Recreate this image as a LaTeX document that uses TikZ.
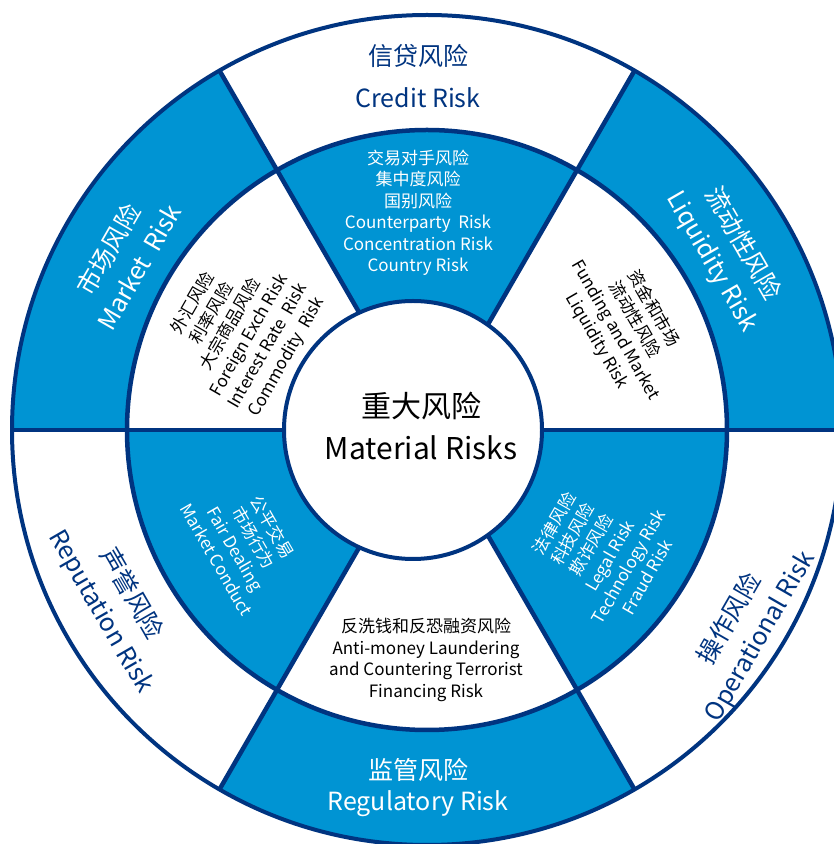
\documentclass[tikz,border=0pt]{standalone}
\usepackage{fontspec}
\setmainfont{Noto Sans CJK SC}
\definecolor{riskblue}{RGB}{0,148,211}
\definecolor{risknavy}{RGB}{0,52,128}

\begin{document}
\begin{tikzpicture}[x=1pt, y=1pt]
  \tikzstyle{outertext}=[
      align = center, inner sep = 0pt
    , font = \fontsize{25}{35}\selectfont
    ]
  \tikzstyle{midtext}=[
      align = center, inner sep = 0pt
    , font = \fontsize{17}{21.5}\selectfont
    ]
  \tikzstyle{ringline}=[draw = risknavy, line width = 4.5pt]

  \useasboundingbox (0,0) rectangle (834,844);
  \clip (0,0) rectangle (834,844);
  \coordinate (c) at (427,414);
  \coordinate (core) at (413,414);

  % start angle / outer ring / middle ring
  \foreach \a/\outc/\midc in {0/riskblue/white, 60/white/riskblue, 120/riskblue/white,
                              180/white/riskblue, 240/riskblue/white, 300/white/riskblue}{
    \fill[\outc] (c) -- ++(\a:415) arc[start angle = \a, delta angle = 60, radius = 415] -- cycle;
    \fill[\midc] (c) -- ++(\a:300) arc[start angle = \a, delta angle = 60, radius = 300] -- cycle;
  }
  \foreach \a in {0,60,...,300}
    \draw[ringline] (c) -- ++(\a:415);
  \draw[ringline, line width = 4pt] (c) circle[radius = 415];
  \draw[ringline] (c) circle[radius = 300];
  \draw[ringline, fill = white, line width = 4pt] (core) circle[radius = 129];

  \node[align = center, font = \fontsize{30}{42}\selectfont] (material) at (421,418)
    {重大风险\\Material Risks};

  \node[outertext, text = risknavy, font = \fontsize{25}{42}\selectfont] (credit) at (418,768)
    {信贷风险\\Credit Risk};
  \node[outertext, text = white, font = \fontsize{25}{31}\selectfont] (regulatory) at (418,56)
    {监管风险\\Regulatory Risk};
  \node[outertext, text = white, rotate = 60] (market) at (123,586)
    {市场风险\\Market\ \ Risk};
  \node[outertext, text = white, rotate = -60] (liquidity) at (727,591)
    {流动性风险\\Liquidity Risk};
  \node[outertext, text = risknavy, rotate = 60] (operational) at (745,216)
    {操作风险\\Operational Risk};
  \node[outertext, text = risknavy, rotate = -60] (reputation) at (116,241)
    {声誉风险\\Reputation Risk};

  \node[midtext, text = white] (counterparty) at (418,631)
    {交易对手风险\\集中度风险\\国别风险\\Counterparty\ \ Risk\\Concentration Risk\\Country Risk};
  \node[midtext] (laundering) at (426,184)
    {反洗钱和反恐融资风险\\Anti-money Laundering\\and Countering Terrorist\\Financing Risk};
  \node[midtext, rotate = 60] (fx) at (240,514)
    {外汇风险\\利率风险\\大宗商品风险\\Foreign Exch Risk\\Interest Rate\ \ Risk\\Commodity\ \ Risk};
  \node[midtext, rotate = -60] (funding) at (625,519)
    {资金和市场\\流动性风险\\Funding and Market\\Liquidity Risk};
  \node[midtext, text = white, rotate = -60] (conduct) at (245,301)
    {公平交易\\市场行为\\Fair Dealing\\Market Conduct};
  \node[midtext, text = white, rotate = 60] (legal) at (600,294)
    {法律风险\\科技风险\\欺诈风险\\Legal Risk\\Technology Risk\\Fraud Risk};
\end{tikzpicture}
\end{document}
